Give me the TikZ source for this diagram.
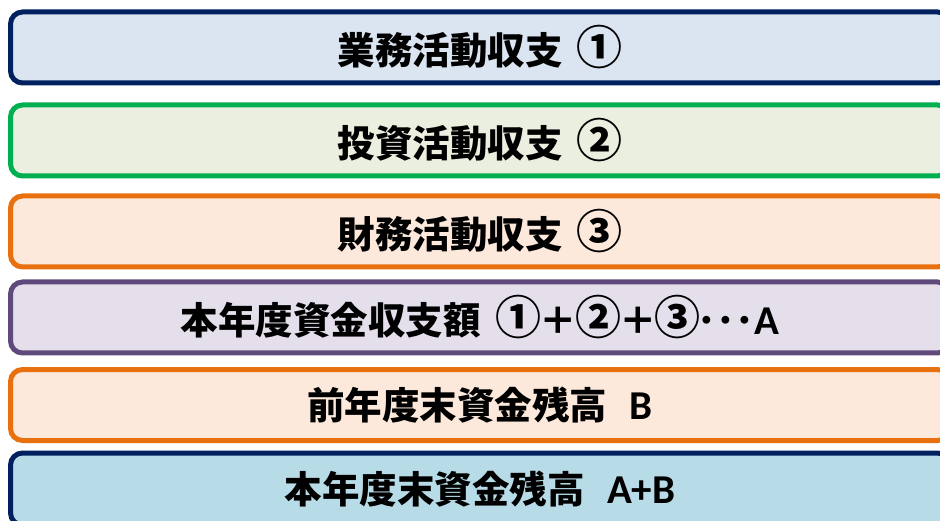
\documentclass[tikz,border=0pt]{standalone}
\usepackage{fontspec}
\setmainfont{Noto Sans CJK JP}
\newfontfamily\lat{Carlito}
\newcommand{\cnum}[1]{{\fontsize{46}{46}\selectfont\raisebox{-0.6pt}{#1}}}
\newcommand{\latx}[1]{{\lat\fontsize{41}{41}\selectfont #1}}
\definecolor{navy}{HTML}{002060}
\definecolor{fillA}{HTML}{DBE4F1}
\definecolor{grn}{HTML}{00B050}
\definecolor{fillB}{HTML}{EBEFDF}
\definecolor{org}{HTML}{E8700E}
\definecolor{fillC}{HTML}{FCE9DB}
\definecolor{purp}{HTML}{604A7B}
\definecolor{fillD}{HTML}{E5DFEC}
\definecolor{fillE}{HTML}{B7DCE7}
\tikzset{
  band/.style={draw, rectangle, rounded corners=12pt, line width=5pt,
    minimum width=939pt, minimum height=71pt, inner sep=0pt,
    font=\fontsize{37.5}{40}\selectfont\bfseries, text=black},
}
\begin{document}
\begin{tikzpicture}[x=1pt,y=-1pt]
\useasboundingbox (0,0) rectangle (940,521);
\clip (0,0) rectangle (940,521);
\node[band, draw=navy, fill=fillA] (b1) at (480,47.5) {業務活動収支\hspace{0.35em}\cnum{①}};
\node[band, draw=grn, fill=fillB] (b2) at (480,140.5) {投資活動収支\hspace{0.35em}\cnum{②}};
\node[band, draw=org, fill=fillC] (b3) at (480,231.5) {財務活動収支\hspace{0.35em}\cnum{③}};
\node[band, draw=purp, fill=fillD] (b4) at (480,317.5) {本年度資金収支額\hspace{0.4em}\cnum{①}\kern-2pt＋\kern-2pt\cnum{②}\kern-2pt＋\kern-2pt\cnum{③}\kern-3pt･･･\latx{A}};
\node[band, draw=org, fill=fillC] (b5) at (480,405) {前年度末資金残高\hspace{0.6em}\latx{B}};
\node[band, draw=navy, fill=fillE, minimum height=72pt] (b6) at (480,489) {本年度末資金残高\hspace{0.6em}\latx{A+B}};
\end{tikzpicture}
\end{document}
